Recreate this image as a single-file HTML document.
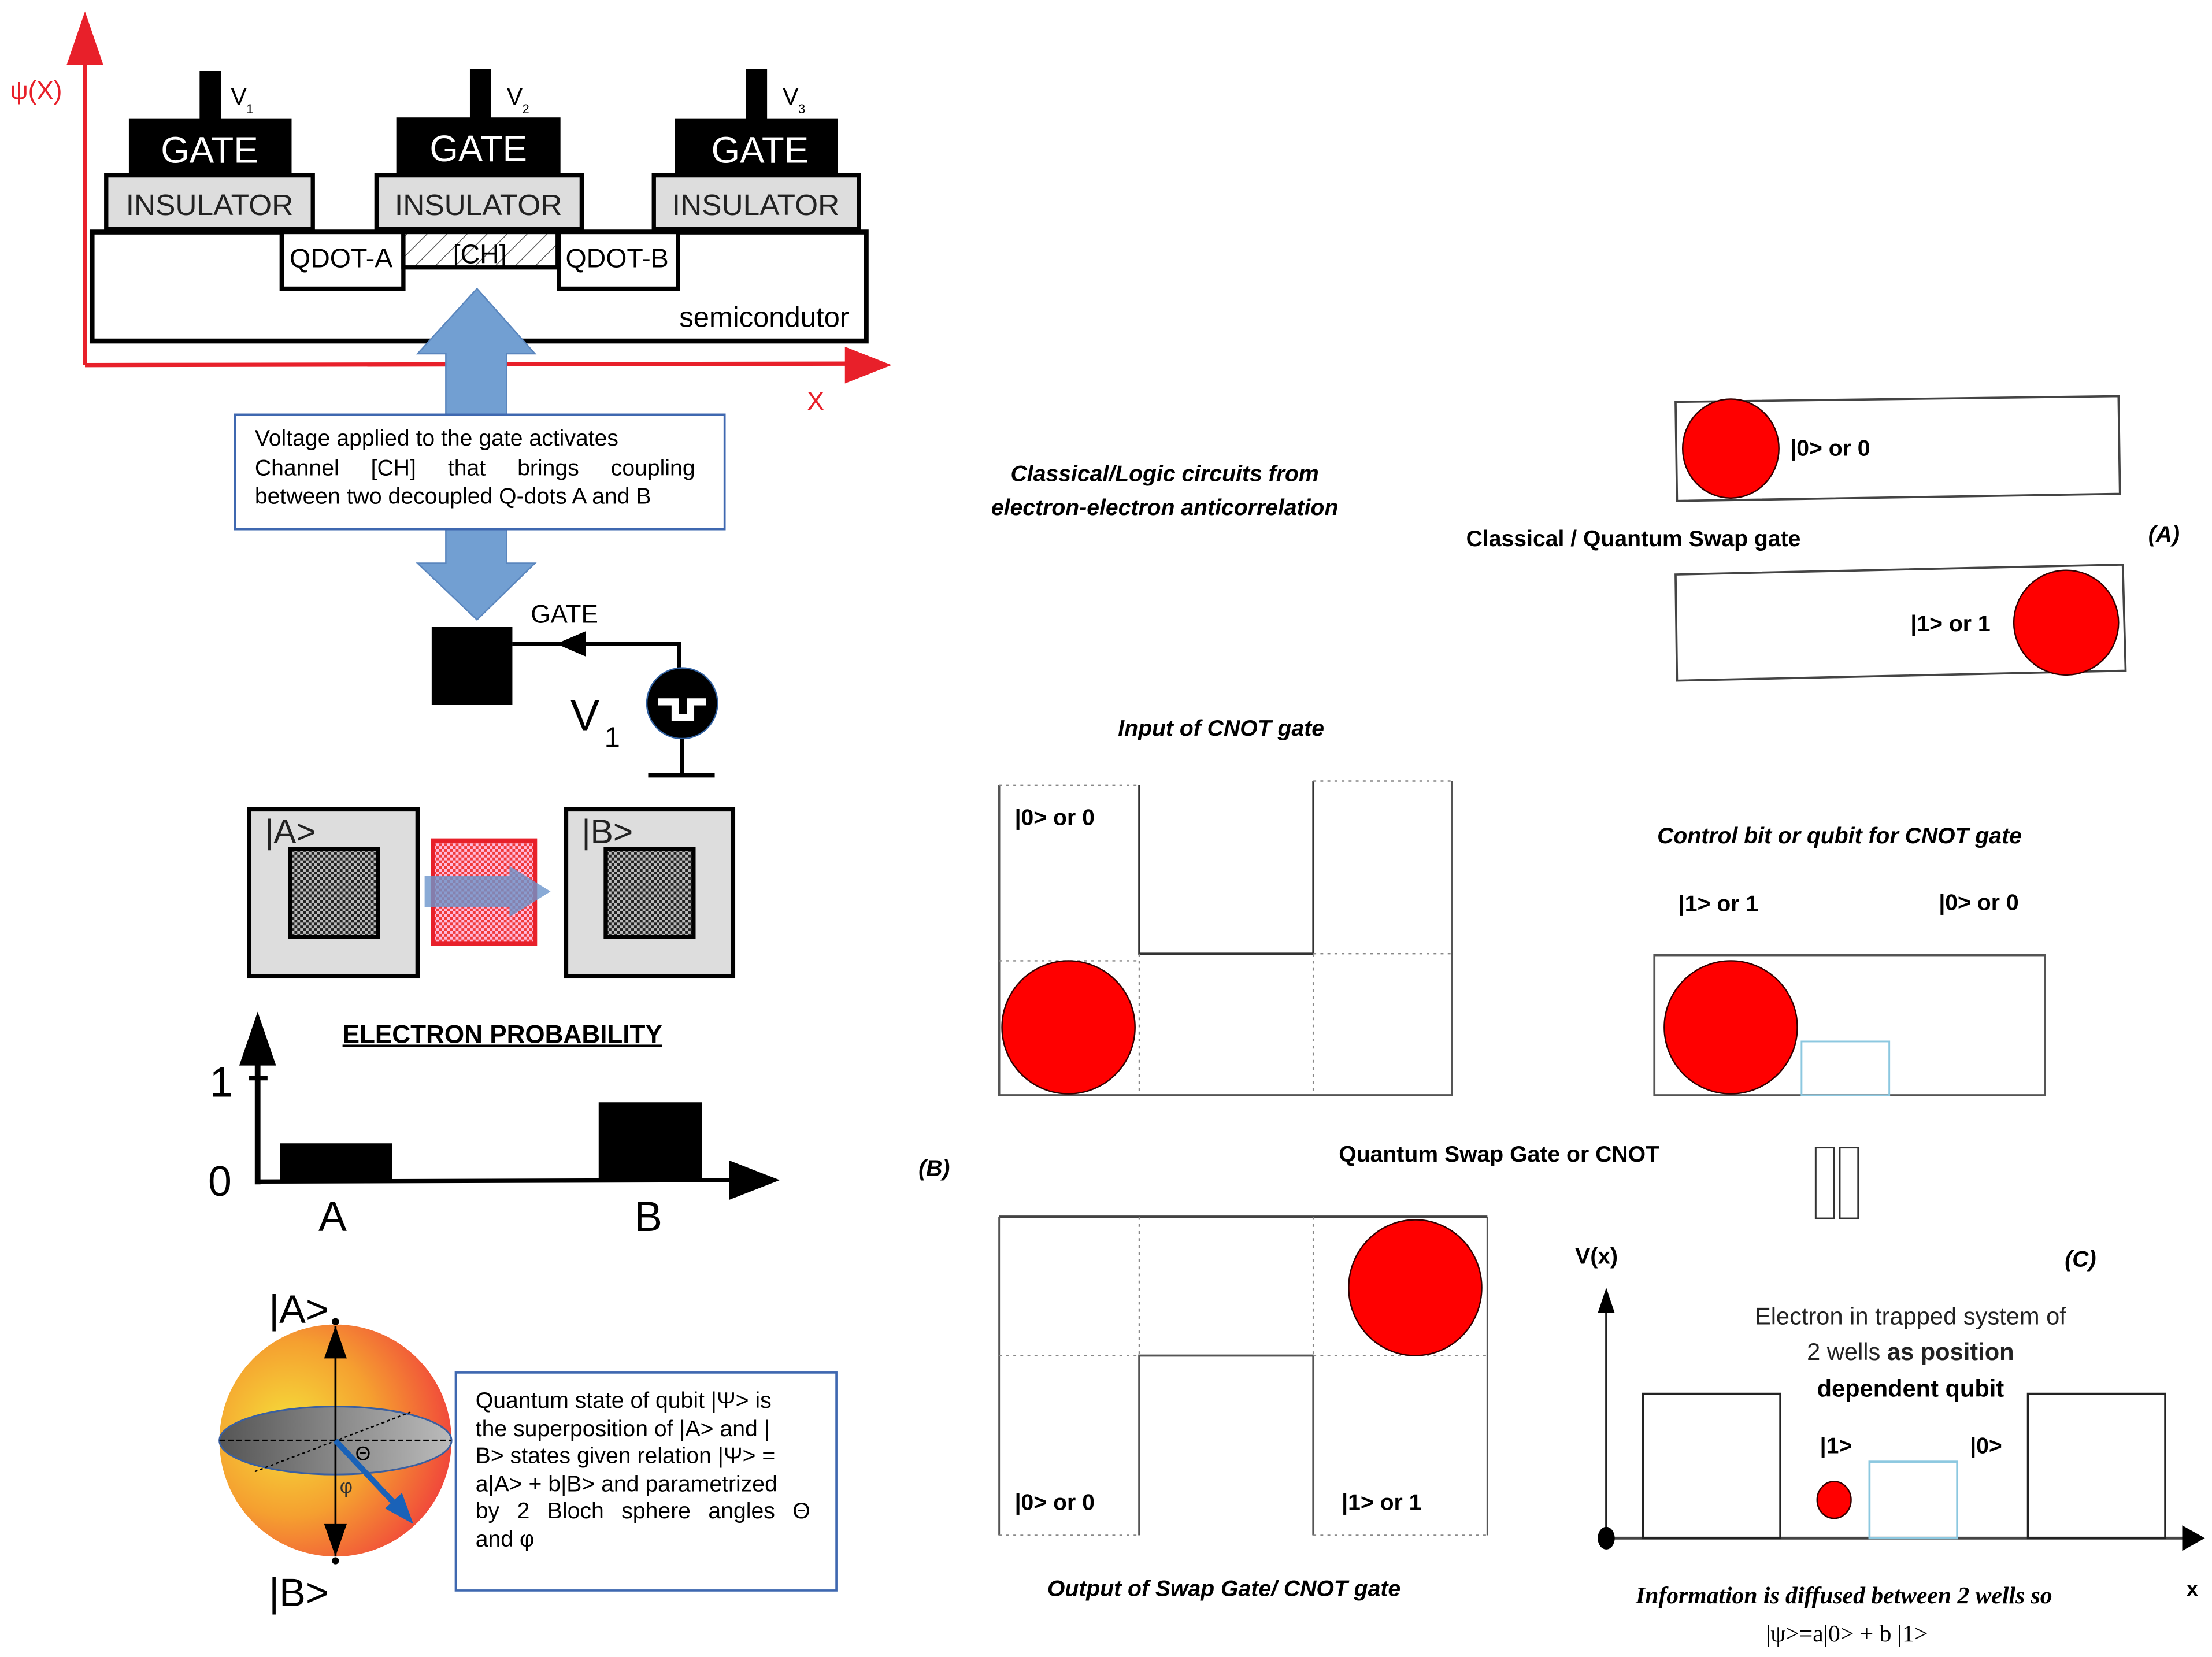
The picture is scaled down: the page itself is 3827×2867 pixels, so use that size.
<!DOCTYPE html>
<html><head><meta charset="utf-8"><style>
html,body{margin:0;padding:0;background:#fff;}
svg{display:block;}
text{font-family:"Liberation Sans",sans-serif;}
.b{font-weight:bold;}
.i{font-style:italic;font-weight:bold;}
</style></head><body>
<svg width="3827" height="2867" viewBox="0 0 1563 1171" xmlns="http://www.w3.org/2000/svg">
<defs>
<pattern id="hatch" width="10" height="10" patternUnits="userSpaceOnUse" patternTransform="rotate(45)">
<rect width="10" height="10" fill="#fff"/><line x1="0" y1="0" x2="0" y2="10" stroke="#555" stroke-width="1.2"/></pattern>
<pattern id="chk" width="4" height="4" patternUnits="userSpaceOnUse">
<rect width="4" height="4" fill="#222"/><rect width="2" height="2" fill="#bbb"/><rect x="2" y="2" width="2" height="2" fill="#bbb"/></pattern>
<pattern id="rchk" width="4" height="4" patternUnits="userSpaceOnUse">
<rect width="4" height="4" fill="#f03a3a"/><rect width="2" height="2" fill="#fbd"/><rect x="2" y="2" width="2" height="2" fill="#fbd"/></pattern>
<radialGradient id="sph" cx="0.3" cy="0.45" r="0.75">
<stop offset="0" stop-color="#f5e03a"/><stop offset="0.5" stop-color="#f5a030"/><stop offset="1" stop-color="#f03c3c"/></radialGradient>
<linearGradient id="eq" x1="0" y1="0" x2="1" y2="0">
<stop offset="0" stop-color="#555"/><stop offset="1" stop-color="#bbb"/></linearGradient>
</defs>

<line x1="60" y1="258" x2="60" y2="40" stroke="#e8202a" stroke-width="3"/>
<polygon points="60,8 47,46 73,46" fill="#e8202a"/>
<line x1="60" y1="258" x2="600" y2="257" stroke="#e8202a" stroke-width="3"/>
<polygon points="630,258 597,245 597,271" fill="#e8202a"/>
<text x="7" y="70" font-size="18" fill="#e8202a">ψ(X)</text>
<text x="570" y="290" font-size="19" fill="#e8202a">X</text>

<rect x="65" y="164" width="547" height="77" fill="#fff" stroke="#000" stroke-width="3.5"/>
<text x="600" y="231" font-size="20" text-anchor="end">semicondutor</text>

<rect x="141" y="50" width="15" height="36" fill="#000"/>
<rect x="91" y="84" width="115" height="41" fill="#000"/>
<text x="148" y="115" font-size="26" fill="#fff" text-anchor="middle">GATE</text>
<text x="163" y="74" font-size="17">V</text><text x="174" y="80" font-size="9">1</text>
<rect x="75" y="124" width="146" height="38" fill="#ddd" stroke="#000" stroke-width="3"/>
<text x="148" y="152" font-size="21" fill="#222" text-anchor="middle">INSULATOR</text>

<rect x="332" y="49" width="15" height="36" fill="#000"/>
<rect x="280" y="83" width="116" height="42" fill="#000"/>
<text x="338" y="114" font-size="26" fill="#fff" text-anchor="middle">GATE</text>
<text x="358" y="74" font-size="17">V</text><text x="369" y="80" font-size="9">2</text>
<rect x="266" y="124" width="145" height="38" fill="#ddd" stroke="#000" stroke-width="3"/>
<text x="338" y="152" font-size="21" fill="#222" text-anchor="middle">INSULATOR</text>

<rect x="527" y="49" width="15" height="36" fill="#000"/>
<rect x="477" y="84" width="115" height="41" fill="#000"/>
<text x="537" y="115" font-size="26" fill="#fff" text-anchor="middle">GATE</text>
<text x="553" y="74" font-size="17">V</text><text x="564" y="80" font-size="9">3</text>
<rect x="462" y="124" width="145" height="38" fill="#ddd" stroke="#000" stroke-width="3"/>
<text x="534" y="152" font-size="21" fill="#222" text-anchor="middle">INSULATOR</text>

<rect x="199" y="164" width="86" height="40" fill="#fff" stroke="#000" stroke-width="3"/>
<text x="241" y="189" font-size="19" text-anchor="middle">QDOT-A</text>
<rect x="285" y="164" width="109" height="25" fill="url(#hatch)" stroke="#000" stroke-width="3"/>
<text x="339" y="186" font-size="19" text-anchor="middle">[CH]</text>
<rect x="395" y="164" width="84" height="40" fill="#fff" stroke="#000" stroke-width="3"/>
<text x="436" y="189" font-size="19" text-anchor="middle">QDOT-B</text>

<polygon points="337,204 378,250 358,250 358,293 315,293 315,250 295,250" fill="#729fd2" stroke="#5a86be" stroke-width="1"/>
<polygon points="315,374 358,374 358,398 378,398 337,438 295,398 315,398" fill="#729fd2" stroke="#5a86be" stroke-width="1"/>
<rect x="166" y="293" width="346" height="81" fill="#fff" stroke="#3f68b0" stroke-width="1.5"/>
<text x="180" y="315" font-size="16">Voltage applied to the gate activates</text>
<text x="180" y="336" font-size="16" word-spacing="18">Channel [CH] that brings coupling</text>
<text x="180" y="356" font-size="16">between two decoupled Q-dots A and B</text>

<rect x="305" y="443" width="57" height="55" fill="#000"/>
<polyline points="362,455 480,455 480,474" fill="none" stroke="#000" stroke-width="3"/>
<polygon points="393,455 414,446 414,464" fill="#000"/>
<text x="375" y="440" font-size="18">GATE</text>
<circle cx="482" cy="497" r="25" fill="#000" stroke="#3060a0" stroke-width="1"/>
<polyline points="465,496 477,496 477,507 488,507 488,496 499,496" fill="none" stroke="#fff" stroke-width="5"/>
<line x1="482" y1="522" x2="482" y2="548" stroke="#000" stroke-width="3"/>
<line x1="458" y1="548" x2="505" y2="548" stroke="#000" stroke-width="3"/>
<text x="403" y="516" font-size="31">V</text><text x="427" y="528" font-size="20">1</text>

<rect x="176" y="572" width="119" height="118" fill="#ddd" stroke="#000" stroke-width="3"/>
<rect x="205" y="600" width="62" height="62" fill="url(#chk)" stroke="#000" stroke-width="3"/>
<text x="187" y="596" font-size="24" fill="#222">|A&gt;</text>
<rect x="400" y="572" width="118" height="118" fill="#ddd" stroke="#000" stroke-width="3"/>
<rect x="428" y="600" width="62" height="62" fill="url(#chk)" stroke="#000" stroke-width="3"/>
<text x="411" y="596" font-size="24" fill="#222">|B&gt;</text>
<rect x="306" y="594" width="72" height="73" fill="url(#rchk)" stroke="#e8202a" stroke-width="3"/>
<polygon points="300,619 360,619 360,612 389,630 360,648 360,641 300,641" fill="#6c95cc" opacity="0.8"/>

<text x="242" y="737" font-size="18" class="b" text-decoration="underline">ELECTRON PROBABILITY</text>
<line x1="182" y1="837" x2="182" y2="748" stroke="#000" stroke-width="4"/>
<polygon points="182,715 169,753 195,753" fill="#000"/>
<line x1="176" y1="762" x2="189" y2="762" stroke="#000" stroke-width="3"/>
<text x="148" y="775" font-size="30">1</text>
<text x="147" y="845" font-size="30">0</text>
<line x1="182" y1="835" x2="520" y2="834" stroke="#000" stroke-width="3"/>
<polygon points="551,834 515,820 515,848" fill="#000"/>
<rect x="198" y="808" width="79" height="27" fill="#000"/>
<rect x="423" y="779" width="73" height="56" fill="#000"/>
<text x="235" y="870" font-size="30" text-anchor="middle">A</text>
<text x="458" y="870" font-size="30" text-anchor="middle">B</text>

<circle cx="237" cy="1018" r="82" fill="url(#sph)"/>
<ellipse cx="237" cy="1018" rx="82" ry="24" fill="url(#eq)" stroke="#3a5fa0" stroke-width="1.2"/>
<line x1="155" y1="1018" x2="319" y2="1018" stroke="#000" stroke-width="1.2" stroke-dasharray="4,2"/>
<line x1="180" y1="1040" x2="290" y2="998" stroke="#000" stroke-width="1" stroke-dasharray="2,2"/>
<line x1="237" y1="937" x2="237" y2="1100" stroke="#000" stroke-width="1.5"/>
<polygon points="237,937 229,960 245,960" fill="#000"/>
<polygon points="237,1100 229,1077 245,1077" fill="#000"/>
<circle cx="237" cy="934" r="2.5" fill="#000"/><circle cx="237" cy="1103" r="2.5" fill="#000"/>
<line x1="237" y1="1018" x2="282" y2="1066" stroke="#1a62b8" stroke-width="4"/>
<polygon points="292,1077 272,1066 284,1055" fill="#1a62b8"/>
<text x="251" y="1032" font-size="14">Θ</text>
<text x="240" y="1055" font-size="14" fill="#333">φ</text>
<text x="190" y="935" font-size="28">|A&gt;</text>
<text x="190" y="1135" font-size="28">|B&gt;</text>
<rect x="322" y="970" width="269" height="154" fill="#fff" stroke="#3f68b0" stroke-width="1.5"/>
<g font-size="16">
<text x="336" y="995">Quantum state of qubit |Ψ&gt; is</text>
<text x="336" y="1015">the superposition of |A&gt; and |</text>
<text x="336" y="1034">B&gt; states given relation |Ψ&gt; =</text>
<text x="336" y="1054">a|A&gt; + b|B&gt; and parametrized</text>
<text x="336" y="1073" word-spacing="8">by 2 Bloch sphere angles Θ</text>
<text x="336" y="1093">and φ</text>
</g>

<g font-size="16">
<text x="823" y="340" class="i" text-anchor="middle">Classical/Logic circuits from</text>
<text x="823" y="364" class="i" text-anchor="middle">electron-electron anticorrelation</text>
<polygon points="1184,284 1497,280 1498,349 1185,354" fill="#fff" stroke="#444" stroke-width="1.5"/>
<ellipse cx="1223" cy="317" rx="34" ry="35" fill="#f00" stroke="#300" stroke-width="1"/>
<text x="1265" y="322" class="b">|0&gt; or 0</text>
<text x="1036" y="386" class="b">Classical / Quantum Swap gate</text>
<text x="1518" y="383" class="i">(A)</text>
<polygon points="1184,406 1500,399 1502,474 1185,481" fill="#fff" stroke="#444" stroke-width="1.5"/>
<ellipse cx="1460" cy="440" rx="37" ry="37" fill="#f00" stroke="#300" stroke-width="1"/>
<text x="1350" y="446" class="b">|1&gt; or 1</text>
<text x="790" y="520" class="i">Input of CNOT gate</text>
</g>

<g fill="none">
<polyline points="706,555 706,774 1026,774 1026,552" stroke="#555" stroke-width="1.5"/>
<polyline points="805,555 805,674 928,674 928,552" stroke="#333" stroke-width="1.5"/>
<g stroke="#888" stroke-width="1" stroke-dasharray="2,3">
<line x1="706" y1="555" x2="805" y2="555"/><line x1="928" y1="552" x2="1026" y2="552"/>
<line x1="706" y1="679" x2="805" y2="679"/><line x1="928" y1="674" x2="1026" y2="674"/>
<line x1="805" y1="674" x2="805" y2="774"/><line x1="928" y1="674" x2="928" y2="774"/>
</g></g>
<ellipse cx="755" cy="726" rx="47" ry="47" fill="#f00" stroke="#300" stroke-width="1"/>
<text x="717" y="583" font-size="16" class="b">|0&gt; or 0</text>

<text x="1171" y="596" font-size="16" class="i">Control bit or qubit for CNOT gate</text>
<text x="1186" y="644" font-size="16" class="b">|1&gt; or 1</text>
<text x="1370" y="643" font-size="16" class="b">|0&gt; or 0</text>
<rect x="1169" y="675" width="276" height="99" fill="#fff" stroke="#555" stroke-width="1.5"/>
<rect x="1273" y="736" width="62" height="38" fill="none" stroke="#8cc8e0" stroke-width="1.2"/>
<ellipse cx="1223" cy="726" rx="47" ry="47" fill="#f00" stroke="#300" stroke-width="1"/>

<text x="946" y="821" font-size="16" class="b">Quantum Swap Gate or CNOT</text>
<text x="649" y="831" font-size="16" class="i">(B)</text>
<rect x="1283" y="811" width="13" height="50" fill="#fff" stroke="#333" stroke-width="1.2"/>
<rect x="1300" y="811" width="13" height="50" fill="#fff" stroke="#333" stroke-width="1.2"/>

<g fill="none">
<line x1="706" y1="860" x2="1051" y2="860" stroke="#444" stroke-width="2"/>
<line x1="706" y1="860" x2="706" y2="1085" stroke="#555" stroke-width="1.2"/>
<line x1="1051" y1="860" x2="1051" y2="1085" stroke="#555" stroke-width="1.2"/>
<polyline points="805,1085 805,958 928,958 928,1085" stroke="#555" stroke-width="1.5"/>
<g stroke="#888" stroke-width="1" stroke-dasharray="2,3">
<line x1="805" y1="860" x2="805" y2="958"/><line x1="928" y1="860" x2="928" y2="958"/>
<line x1="706" y1="958" x2="805" y2="958"/><line x1="928" y1="958" x2="1051" y2="958"/>
<line x1="706" y1="1085" x2="805" y2="1085"/><line x1="928" y1="1085" x2="1051" y2="1085"/>
</g></g>
<ellipse cx="1000" cy="910" rx="47" ry="48" fill="#f00" stroke="#300" stroke-width="1"/>
<text x="717" y="1067" font-size="16" class="b">|0&gt; or 0</text>
<text x="948" y="1067" font-size="16" class="b">|1&gt; or 1</text>
<text x="740" y="1128" font-size="16" class="i">Output of Swap Gate/ CNOT gate</text>

<text x="1113" y="893" font-size="16" class="b">V(x)</text>
<text x="1459" y="895" font-size="16" class="i">(C)</text>
<line x1="1135" y1="1087" x2="1135" y2="925" stroke="#222" stroke-width="1.5"/>
<polygon points="1135,910 1129,928 1141,928" fill="#000"/>
<line x1="1135" y1="1087" x2="1545" y2="1087" stroke="#444" stroke-width="2"/>
<polygon points="1558,1087 1542,1078 1542,1096" fill="#000"/>
<ellipse cx="1135" cy="1087" rx="6" ry="8" fill="#000"/>
<rect x="1161" y="985" width="97" height="102" fill="none" stroke="#222" stroke-width="1.5"/>
<rect x="1433" y="985" width="97" height="102" fill="none" stroke="#222" stroke-width="1.5"/>
<rect x="1321" y="1033" width="62" height="54" fill="none" stroke="#8cc8e0" stroke-width="1.5"/>
<ellipse cx="1296" cy="1060" rx="12" ry="13" fill="#f00" stroke="#300" stroke-width="1"/>
<text x="1286" y="1027" font-size="16" class="b">|1&gt;</text>
<text x="1392" y="1027" font-size="16" class="b">|0&gt;</text>
<text x="1350" y="936" font-size="17" text-anchor="middle" fill="#222">Electron in trapped system of</text>
<text x="1350" y="961" font-size="17" text-anchor="middle" fill="#222">2 wells <tspan class="b">as position</tspan></text>
<rect x="1276" y="970" width="150" height="22" fill="#fff"/>
<text x="1350" y="987" font-size="17" text-anchor="middle" class="b">dependent qubit</text>
<text x="1303" y="1133" font-size="17" text-anchor="middle" font-style="italic" font-weight="bold" style="font-family:'Liberation Serif',serif">Information is diffused between 2 wells so</text>
<text x="1305" y="1160" font-size="17" text-anchor="middle" style="font-family:'Liberation Serif',serif">|ψ&gt;=a|0&gt; + b |1&gt;</text>
<text x="1545" y="1128" font-size="15" class="b">x</text>
</svg>
</body></html>
